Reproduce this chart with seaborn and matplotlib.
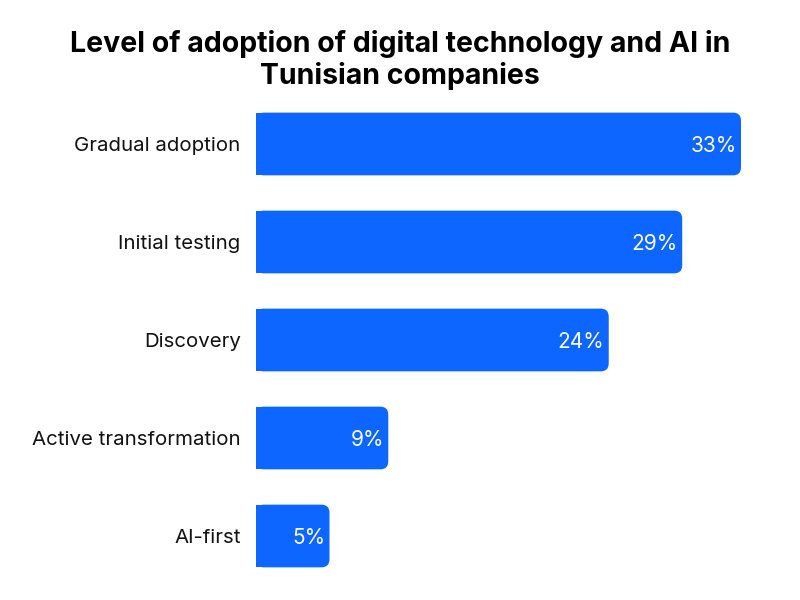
import matplotlib
matplotlib.use("Agg")
import matplotlib.pyplot as plt
import seaborn as sns
import pandas as pd
from matplotlib.patches import FancyBboxPatch

categories = ["Gradual adoption", "Initial testing", "Discovery", "Active transformation", "AI-first"]
values = [33, 29, 24, 9, 5]
labels = ["33%", "29%", "24%", "9%", "5%"]

bar_color = "#0D66FF"

sns.set_theme(style="white")
plt.rcParams["font.family"] = ["Inter", "DejaVu Sans"]

df = pd.DataFrame({"category": categories, "value": values})

fig = plt.figure(figsize=(8, 6), dpi=100)
ax = fig.add_axes([0.32, 0.025, 0.60625, 0.8167])
sns.barplot(data=df, x="value", y="category", color=bar_color, width=0.64,
            saturation=1, ax=ax)

ax.set_xlim(0, 33)
ax.set_ylim(4.5, -0.5)

# rounded right corners
px_x = ax.transData.transform((1, 0))[0] - ax.transData.transform((0, 0))[0]
px_y = abs(ax.transData.transform((0, 1))[1] - ax.transData.transform((0, 0))[1])
r_px = 8
rx = r_px / px_x
ry = r_px / px_y
for p in list(ax.patches):
    x, y = p.get_x(), p.get_y()
    w, h = p.get_width(), p.get_height()
    rounded = FancyBboxPatch((x, y), w, h,
                             boxstyle=f"round,pad=0,rounding_size={rx}",
                             mutation_aspect=ry / rx,
                             facecolor=bar_color, edgecolor="none")
    ax.add_patch(rounded)
    p.set_width(w / 2)
    p.set_edgecolor("none")

for i, (v, lab) in enumerate(zip(values, labels)):
    ax.text(v - 0.3, i, lab, color="white", fontsize=15, ha="right", va="center_baseline")

sns.despine(left=True, bottom=True)
ax.set_xticks([])
ax.set_xlabel("")
ax.set_ylabel("")
ax.tick_params(axis="y", length=0, pad=11, labelsize=14.7, labelcolor="#111111")

fig.text(0.5, 0.9, "Level of adoption of digital technology and AI in\nTunisian companies",
         ha="center", va="center", fontsize=20.5, fontweight="bold", color="black",
         linespacing=1.2)

fig.savefig("out.png", dpi=100, facecolor="white")
